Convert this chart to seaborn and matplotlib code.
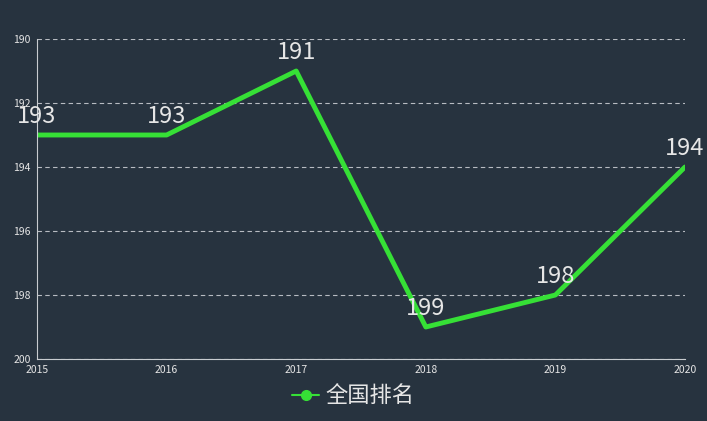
import matplotlib
matplotlib.use("Agg")
import matplotlib.pyplot as plt
import seaborn as sns
import pandas as pd

years = [2015, 2016, 2017, 2018, 2019, 2020]
ranks = [193, 193, 191, 199, 198, 194]
series_name = "全国排名"
y_ticks = [190, 192, 194, 196, 198, 200]

bg = "#27333f"
green = "#36e036"
fg = "#e6e6e6"

sns.set_style("dark")
plt.rcParams["font.family"] = ["Noto Sans CJK SC", "DejaVu Sans"]

df = pd.DataFrame({"year": years, "rank": ranks})

fig = plt.figure(figsize=(7.07, 4.21), dpi=100, facecolor=bg)
ax = fig.add_axes([37 / 707, 62 / 421, 648 / 707, 320 / 421])
ax.set_facecolor(bg)

sns.lineplot(data=df, x="year", y="rank", ax=ax, color=green, linewidth=3.5,
             label=series_name, legend=False)

ax.set_xlim(years[0], years[-1])
ax.set_ylim(200, 190)
ax.set_yticks(y_ticks)
ax.set_xticks(years)
ax.tick_params(colors=fg, labelsize=7.5, length=3, width=0.8, pad=1.5)
ax.set_xlabel("")
ax.set_ylabel("")
ax.grid(axis="y", color="#b8bcc2", linestyle=(0, (4, 3)), linewidth=0.8)
ax.grid(axis="x", visible=False)
for side in ["top", "right"]:
    ax.spines[side].set_visible(False)
for side in ["left", "bottom"]:
    ax.spines[side].set_visible(True)
    ax.spines[side].set_color("#c8ccd0")
    ax.spines[side].set_linewidth(0.8)

for x, y in zip(years, ranks):
    ax.annotate(str(y), (x, y), xytext=(0, 5), textcoords="offset points",
                ha="center", va="bottom", color=fg, fontsize=17, clip_on=False)

handle = plt.Line2D([], [], color=green, linewidth=1.5, marker="o", markersize=7)
fig.legend([handle], [series_name], loc="lower center", bbox_to_anchor=(0.5, -0.015),
           frameon=False, fontsize=16, labelcolor=fg, handlelength=1.2,
           handletextpad=0.3)

fig.savefig("out.png", dpi=100, facecolor=bg)
